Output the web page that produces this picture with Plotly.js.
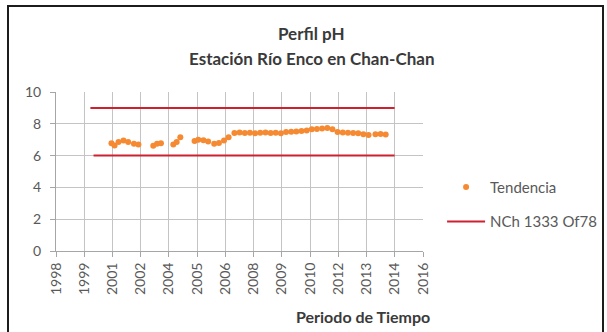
<!DOCTYPE html>
<html>
<head>
<meta charset="utf-8">
<script src="https://cdn.plot.ly/plotly-3.0.1.min.js"></script>
<style>
  html, body { margin: 0; padding: 0; background: #ffffff; overflow: hidden; }
  #chart { width: 607px; height: 332px; }
  #frame {
    position: absolute; left: 7px; top: 5px; width: 597px; height: 400px;
    border: 2px solid #1c1c1c; pointer-events: none; box-sizing: border-box;
  }
</style>
</head>
<body>
<div id="chart"></div>
<div id="frame"></div>
<script>
// pH measurements, Río Enco at Chan-Chan
const sampleDates = [
  '2001-03-28', '2001-05-22', '2001-07-31', '2001-10-27', '2002-01-18', '2002-04-30', '2002-07-19',
  '2003-04-08', '2003-06-13', '2003-08-22',
  '2004-03-28', '2004-05-26', '2004-07-30',
  '2005-04-08', '2005-06-14', '2005-09-12', '2005-12-05',
  '2006-03-22', '2006-06-14', '2006-09-12', '2006-12-02',
  '2007-03-15', '2007-06-15', '2007-09-15', '2007-12-15',
  '2008-03-15', '2008-06-15', '2008-09-15', '2008-12-15',
  '2009-03-15', '2009-06-15', '2009-09-15', '2009-12-15',
  '2010-03-15', '2010-06-15', '2010-09-15', '2010-12-15',
  '2011-03-15', '2011-06-15', '2011-09-15', '2011-12-15',
  '2012-03-15', '2012-06-15', '2012-09-15', '2012-12-15',
  '2013-03-15', '2013-06-15', '2013-09-15',
  '2014-01-15', '2014-04-15', '2014-07-15'
];
const phValues = [
  6.78, 6.64, 6.85, 6.95, 6.85, 6.74, 6.70,
  6.62, 6.74, 6.78,
  6.70, 6.85, 7.15,
  6.92, 7.00, 6.97, 6.88,
  6.75, 6.80, 6.95, 7.15,
  7.42, 7.45, 7.42, 7.44,
  7.40, 7.43, 7.45, 7.42,
  7.44, 7.40, 7.48, 7.50,
  7.52, 7.54, 7.58, 7.65,
  7.68, 7.70, 7.74, 7.66,
  7.48, 7.46, 7.44, 7.42,
  7.40, 7.35, 7.30,
  7.34, 7.36, 7.33
];

// NCh 1333 Of78 limits for pH
const upperLimitDates = ['2000-03-20', '2014-12-20'];
const upperLimitValues = [9, 9];
const lowerLimitDates = ['2000-05-15', '2014-12-20'];
const lowerLimitValues = [6, 6];

// Date axis: labels every 500 days starting 1998-07-20
const axisStart = '1998-07-20';
const axisEnd = '2016-05-06';
const tickLabels = ['1998', '1999', '2001', '2002', '2004', '2005', '2006',
                    '2008', '2009', '2010', '2012', '2013', '2014', '2016'];
const tickStepDays = 500;
const t0 = Date.parse(axisStart + 'T00:00:00Z');
const tickDates = tickLabels.map((_, i) =>
  new Date(t0 + i * tickStepDays * 86400000).toISOString().slice(0, 10));

const yTicks = [0, 2, 4, 6, 8, 10];

const FONT = 'Lato, "Open Sans", sans-serif';
const GREY = '#595959';
const DARK = '#3a3a3a';
const RED = '#cf2030';
const ORANGE = '#f58a32';
const GRID = '#c4c4c4';

const traces = [
  {
    x: sampleDates, y: phValues, type: 'scatter', mode: 'markers',
    name: 'Tendencia', legendgroup: 'a',
    marker: { color: ORANGE, size: 6, line: { width: 0 } }
  },
  {
    x: upperLimitDates, y: upperLimitValues, type: 'scatter', mode: 'lines',
    name: 'NCh 1333 Of78', legendgroup: 'b',
    line: { color: RED, width: 2 }
  },
  {
    x: lowerLimitDates, y: lowerLimitValues, type: 'scatter', mode: 'lines',
    name: 'NCh 1333 Of78', legendgroup: 'b', showlegend: false,
    line: { color: RED, width: 2 }
  }
];

const layout = {
  width: 607, height: 332,
  paper_bgcolor: '#ffffff', plot_bgcolor: '#ffffff',
  margin: { l: 56, r: 184, t: 92, b: 81, autoexpand: false },
  font: { family: FONT, color: GREY, size: 13 },
  showlegend: true,
  legend: {
    x: 1.052, xanchor: 'left', xref: 'paper',
    y: 0.505, yanchor: 'top',
    traceorder: 'grouped', tracegroupgap: 12,
    itemwidth: 38,
    font: { family: FONT, size: 15, color: GREY },
    bgcolor: 'rgba(0,0,0,0)'
  },
  xaxis: {
    type: 'date',
    range: [axisStart, axisEnd],
    tickmode: 'array', tickvals: tickDates, ticktext: tickLabels,
    tickangle: -90,
    ticks: 'outside', ticklen: 5, tickcolor: '#a6a6a6',
    showgrid: true, gridcolor: GRID, gridwidth: 1,
    showline: true, linecolor: '#a6a6a6', linewidth: 1,
    zeroline: false,
    tickfont: { family: FONT, size: 14, color: GREY },
    fixedrange: true
  },
  yaxis: {
    range: [0, 10],
    tickmode: 'array', tickvals: yTicks,
    ticks: 'outside', ticklen: 5, tickcolor: '#a6a6a6',
    showgrid: true, gridcolor: GRID, gridwidth: 1,
    showline: true, linecolor: '#a6a6a6', linewidth: 1,
    zeroline: false,
    tickfont: { family: FONT, size: 14, color: GREY },
    ticklabelstandoff: 6,
    fixedrange: true
  },
  annotations: [
    { text: '<b>Perfil pH</b>', xref: 'paper', yref: 'paper', x: 0.697, y: 1.0,
      xanchor: 'center', yanchor: 'middle', yshift: 59, showarrow: false,
      font: { family: FONT, size: 17, color: DARK } },
    { text: '<b>Estación Río Enco en Chan-Chan</b>', xref: 'paper', yref: 'paper', x: 0.697, y: 1.0,
      xanchor: 'center', yanchor: 'middle', yshift: 34, showarrow: false,
      font: { family: FONT, size: 17, color: DARK } },
    { text: '<b>Periodo de Tiempo</b>', xref: 'paper', yref: 'paper', x: 1.0, y: 0,
      xanchor: 'right', yanchor: 'middle', xshift: 9, yshift: -65, showarrow: false,
      font: { family: FONT, size: 16, color: DARK } }
  ]
};

Plotly.newPlot('chart', traces, layout, { displayModeBar: false, staticPlot: true });
</script>
</body>
</html>
